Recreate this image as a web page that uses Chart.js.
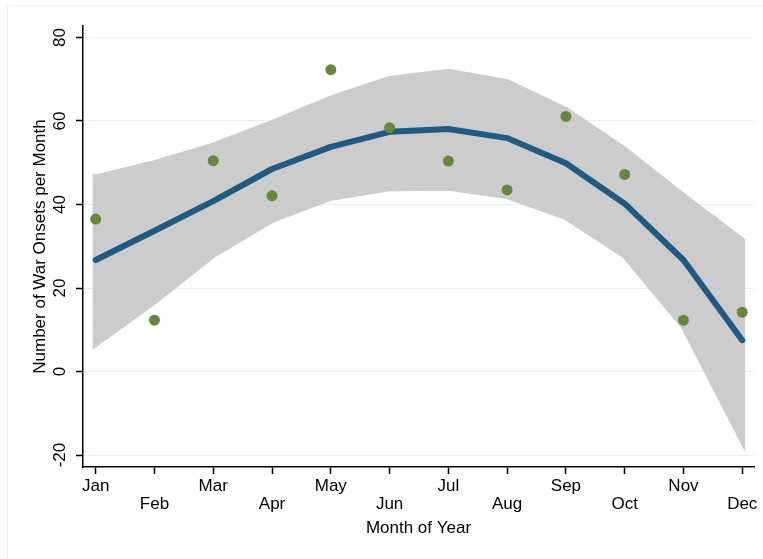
<!DOCTYPE html>
<html>
<head>
<meta charset="utf-8">
<script src="https://cdn.jsdelivr.net/npm/chart.js@4.4.1/dist/chart.umd.min.js"></script>
<style>
  html, body { margin: 0; padding: 0; background: #fff; }
  #wrap { width: 763px; height: 559px; }
</style>
</head>
<body>
<div id="wrap"><canvas id="onsets" width="763" height="559"></canvas></div>
<script>
// war onsets by calendar month: observed counts, fitted curve and its confidence band
const months  = ["Jan", "Feb", "Mar", "Apr", "May", "Jun", "Jul", "Aug", "Sep", "Oct", "Nov", "Dec"];
const monthNo = [1, 2, 3, 4, 5, 6, 7, 8, 9, 10, 11, 12];
const onsets  = [36.5, 12.3, 50.5, 42.1, 72.3, 58.4, 50.4, 43.5, 61.1, 47.2, 12.3, 14.2];
const fitted  = [26.7, 33.7, 40.8, 48.5, 53.8, 57.4, 58.1, 55.9, 49.9, 40.2, 26.7, 7.5];
const ciUpper = [46.5, 49.9, 54.1, 59.5, 65.4, 70.1, 71.8, 69.3, 62.6, 53.1, 42.0, 31.4];
const ciLower = [6.6, 16.8, 27.9, 36.3, 41.6, 43.9, 44.0, 42.0, 37.0, 27.8, 10.9, -16.4];
const yTicks  = [-20, 0, 20, 40, 60, 80];

const FONT = "'Liberation Sans', Arial, Helvetica, sans-serif";
const GRID = "#e8efef";

// band as one closed outline: upper edge left->right, lower edge back
const band = monthNo.map((m, i) => ({ x: m, y: ciUpper[i] }))
  .concat(monthNo.map((m, i) => ({ x: m, y: ciLower[i] })).reverse());
band.push(band[0]);

// light outer frame + rotated y tick labels
const stataBits = {
  id: "stataBits",
  beforeDraw(chart) {
    const ctx = chart.ctx;
    ctx.save();
    ctx.strokeStyle = GRID;
    ctx.lineWidth = 1;
    ctx.strokeRect(7.5, 5.5, chart.width + 10, chart.height + 10);
    ctx.restore();
  },
  afterDraw(chart) {
    const ctx = chart.ctx, y = chart.scales.y;
    ctx.save();
    ctx.fillStyle = "#000";
    ctx.font = "17px " + FONT;
    ctx.textAlign = "center";
    ctx.textBaseline = "middle";
    yTicks.forEach(v => {
      ctx.save();
      ctx.translate(60, y.getPixelForValue(v));
      ctx.rotate(-Math.PI / 2);
      ctx.fillText(String(v), 0, 0);
      ctx.restore();
    });
    ctx.restore();
  }
};

new Chart(document.getElementById("onsets"), {
  type: "line",
  data: {
    datasets: [
      { data: onsets, order: 1, showLine: false,
        pointRadius: 5.5, pointHoverRadius: 5.5, pointBorderWidth: 0,
        pointBackgroundColor: "#66873a" },
      { data: fitted, order: 2, borderColor: "#1f5a83", borderWidth: 6,
        borderCapStyle: "round", borderJoinStyle: "round", pointRadius: 0, tension: 0 },
      { data: band, order: 3, fill: "shape", backgroundColor: "#cccccc",
        borderColor: "#cccccc", borderWidth: 6, borderJoinStyle: "miter",
        borderCapStyle: "square", pointRadius: 0, tension: 0 }
    ].map((d, i) => i < 2 ? { ...d, data: d.data.map((v, k) => ({ x: monthNo[k], y: v })) } : d)
  },
  options: {
    responsive: false,
    devicePixelRatio: 1,
    animation: false,
    layout: { padding: { top: 26, right: 9, bottom: 0, left: 0 } },
    plugins: { legend: { display: false }, tooltip: { enabled: false } },
    scales: {
      x: {
        type: "linear", min: 0.784, max: 12.2,
        afterBuildTicks: s => { s.ticks = monthNo.map(v => ({ value: v })); },
        afterFit: s => { s.height = 92; },
        grid: { drawOnChartArea: false, tickLength: 7, tickColor: "#000", tickWidth: 1.5 },
        border: { color: "#000", width: 1.5 },
        ticks: {
          autoSkip: false, maxRotation: 0, minRotation: 0, padding: 3, color: "#000",
          font: { family: FONT, size: 17, lineHeight: 1.06 },
          // odd months on the first row, even months dropped to a second row
          callback: v => {
            const i = monthNo.indexOf(v);
            return i % 2 === 0 ? months[i] : ["", months[i]];
          }
        },
        title: { display: true, text: "Month of Year", color: "#000",
                 font: { family: FONT, size: 17 }, padding: { top: 0, bottom: 20 } }
      },
      y: {
        type: "linear", min: -22.87, max: 82.75,
        afterBuildTicks: s => { s.ticks = yTicks.map(v => ({ value: v })); },
        afterFit: s => { s.width = 83; },
        grid: { color: GRID, lineWidth: 1, tickLength: 7, tickColor: "#000", tickWidth: 1.5 },
        border: { color: "#000", width: 1.5 },
        ticks: { display: false },
        title: { display: true, text: "Number of War Onsets per Month", color: "#000",
                 font: { family: FONT, size: 17 }, padding: { top: 30, bottom: 0 } }
      }
    }
  },
  plugins: [stataBits]
});
</script>
</body>
</html>
